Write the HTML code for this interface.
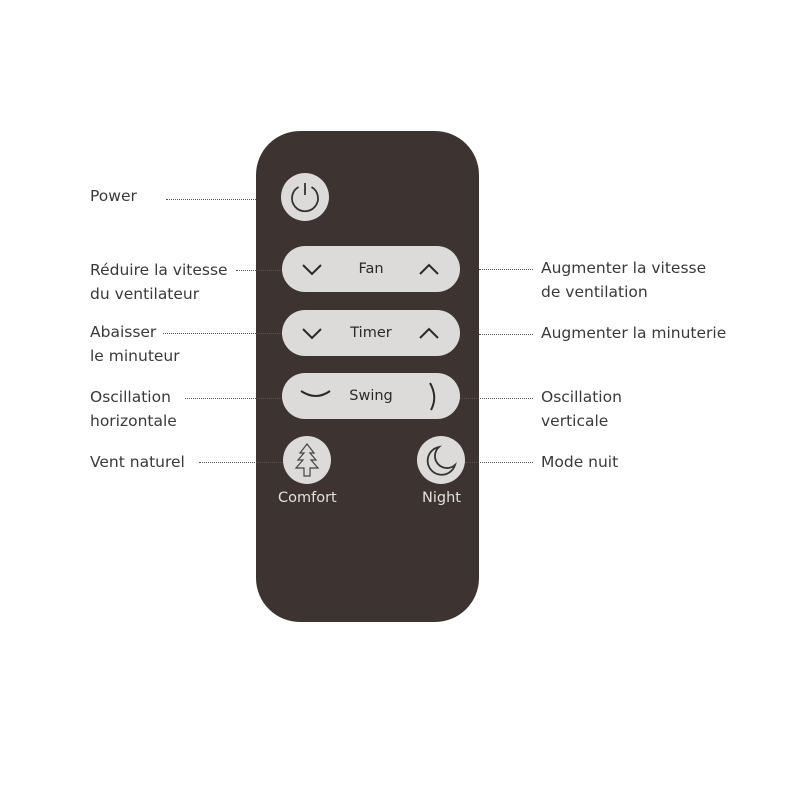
<!DOCTYPE html>
<html><head><style>
body{margin:0;width:800px;height:799px;background:#fff;position:relative;overflow:hidden;font-family:"DejaVu Sans","Liberation Sans",sans-serif;}
.t{position:absolute;font-size:15.5px;color:#3a3a3a;line-height:24px;white-space:nowrap}
.d{position:absolute;border-top:1.3px dotted #555;height:0}
.remote{position:absolute;left:256px;top:131px;width:223px;height:491px;background:#3d3432;border-radius:44px}
.pill{position:absolute;left:282px;width:178px;height:46px;border-radius:23px;background:#dcdbd9}
.pl{position:absolute;width:100%;text-align:center;top:15px;font-size:14.5px;color:#2a2a2a}
.c{position:absolute;width:48px;height:48px;border-radius:50%;background:#dcdbd9}
.lb{position:absolute;color:#e2e0de;font-size:14.5px}
</style></head><body>
<div class="remote"></div>
<div class="c" style="left:281px;top:173px"></div>
<svg style="position:absolute;left:281px;top:173px" width="48" height="48"><path d="M17.5 14 A13 13 0 1 0 30.5 14" fill="none" stroke="#333" stroke-width="1.8"/><line x1="24" y1="10" x2="24" y2="22" stroke="#333" stroke-width="1.8"/></svg>
<div class="pill" style="top:246px"><div class="pl">Fan</div></div>
<div class="pill" style="top:310px"><div class="pl">Timer</div></div>
<div class="pill" style="top:373px"><div class="pl">Swing</div></div>
<svg style="position:absolute;left:0;top:0" width="800" height="799">
<g fill="none" stroke="#2a2a2a" stroke-width="2">
<polyline points="303,265 312,274 321,265"/><polyline points="420,274 429,265 438,274"/>
<polyline points="303,329 312,338 321,329"/><polyline points="420,338 429,329 438,338"/>
<path d="M301 391 Q316 401 330 391"/><path d="M430 383 Q438 397 431 410"/>
</g></svg>
<div class="c" style="left:283px;top:436px"></div>
<div class="c" style="left:417px;top:436px"></div>
<svg style="position:absolute;left:283px;top:436px" width="48" height="48"><path d="M24 8 L17 17 L21 17 L15 24 L20 24 L13 32 L21 32 L21 40 L27 40 L27 32 L35 32 L28 24 L33 24 L27 17 L31 17 Z" fill="none" stroke="#444" stroke-width="1.2"/></svg>
<svg style="position:absolute;left:417px;top:436px" width="48" height="48"><path d="M22 11 A14 14 0 1 0 38 29 A11 11 0 0 1 22 11 Z" fill="none" stroke="#333" stroke-width="1.8"/></svg>
<div class="lb" style="left:278px;top:490px">Comfort</div>
<div class="lb" style="left:422px;top:490px">Night</div>

<div class="t" style="left:90px;top:184px">Power</div>
<div class="d" style="left:166px;top:199px;width:90px"></div>
<div class="t" style="left:90px;top:258px">Réduire la vitesse<br>du ventilateur</div>
<div class="d" style="left:236px;top:270px;width:46px"></div>
<div class="t" style="left:90px;top:320px">Abaisser<br>le minuteur</div>
<div class="d" style="left:163px;top:333px;width:119px"></div>
<div class="t" style="left:90px;top:385px">Oscillation<br>horizontale</div>
<div class="d" style="left:185px;top:398px;width:97px"></div>
<div class="t" style="left:90px;top:450px">Vent naturel</div>
<div class="d" style="left:199px;top:462px;width:84px"></div>
<div class="t" style="left:541px;top:256px">Augmenter la vitesse<br>de ventilation</div>
<div class="d" style="left:479px;top:269px;width:54px"></div>
<div class="t" style="left:541px;top:321px">Augmenter la minuterie</div>
<div class="d" style="left:479px;top:334px;width:54px"></div>
<div class="t" style="left:541px;top:385px">Oscillation<br>verticale</div>
<div class="d" style="left:460px;top:398px;width:73px"></div>
<div class="t" style="left:541px;top:450px">Mode nuit</div>
<div class="d" style="left:465px;top:462px;width:68px"></div>
</body></html>
